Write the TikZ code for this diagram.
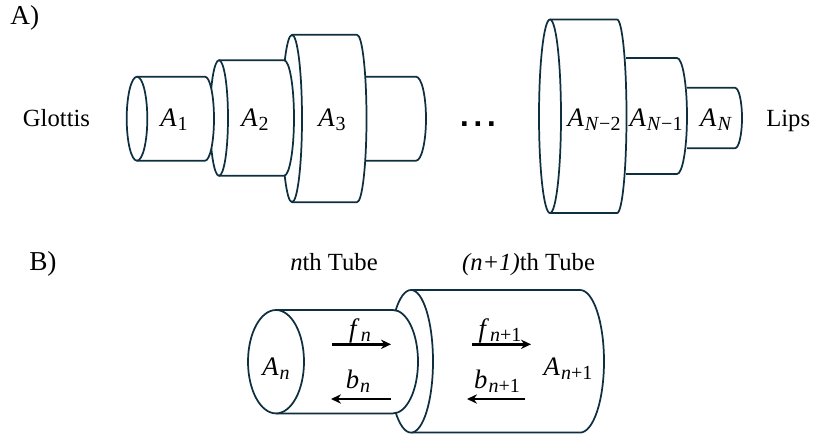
\documentclass[tikz,border=0pt]{standalone}
\usepackage{fontspec}
\setmainfont{Liberation Serif}
\newfontfamily\dotfont{DejaVu Sans}
\usetikzlibrary{arrows.meta}
\definecolor{tube}{HTML}{0E2F40}
\tikzset{
  x=0.75pt,y=-0.75pt,
  tubeline/.style={draw=tube,line width=1.3pt,fill=white,line join=round},
  lab/.style={inner sep=0pt,anchor=base,font=\fontsize{18.5pt}{20pt}\selectfont},
  big/.style={inner sep=0pt,anchor=base,font=\fontsize{20.5pt}{22pt}\selectfont},
  mlab/.style={inner sep=0pt,anchor=base,font=\fontsize{20pt}{22pt}\selectfont},
  flow/.style={draw=black,line width=1.8pt,-{Stealth[length=7.5pt,width=7pt]}},
}
% letter with a subscript
\newcommand{\symsub}[2]{\textit{#1}\kern0.8pt\raisebox{-3.6pt}{\fontsize{15pt}{16pt}\selectfont #2}}
\newcommand{\itn}[1]{\textit{#1}}
% #1 left x, #2 centre y, #3 half height, #4 x where the straight part ends, #5 x radius of the end
\newcommand{\tubebody}[5]{%
  \path[tubeline] (#1,#2-#3) -- (#4,#2-#3) arc[start angle=90,end angle=-90,x radius=#5*0.75pt,y radius=#3*0.75pt] -- (#1,#2+#3);
}
% #1 centre x, #2 centre y, #3 half height, #4 x radius
\newcommand{\tubecap}[4]{%
  \path[tubeline] (#1,#2) ellipse[x radius=#4*0.75pt,y radius=#3*0.75pt];
}
\begin{document}
\begin{tikzpicture}
\useasboundingbox (0,0) rectangle (814,436);
% Part A, left group
\tubebody{366}{118.7}{42}{416}{10}
\tubebody{292}{118.5}{83.7}{357}{9.5}
\tubecap{292}{118.5}{83.7}{10}
\tubebody{219}{118}{57.8}{284}{10}
\tubecap{219}{118}{57.8}{9}
\tubebody{137}{118.7}{42}{205}{9}
\tubecap{137}{118.7}{42}{10.3}
% Part A, right group
\tubebody{687}{118}{30.2}{735}{7}
\tubebody{626}{116}{58}{677}{10}
\tubebody{550}{116.3}{96.8}{617}{9.5}
\tubecap{550}{116.3}{96.8}{11}
% Part B
\tubebody{411}{361.3}{71.3}{580}{24}
\tubecap{411}{361.3}{71.3}{22}
\tubebody{276}{361.7}{51.7}{393}{25}
\tubecap{276}{361.7}{51.7}{28}
% Arrows
\coordinate (fa) at (332,344.3); \coordinate (fb) at (391,344.3);
\coordinate (ba) at (391,399); \coordinate (bb) at (331,399);
\coordinate (ga) at (472,344.3); \coordinate (gb) at (531,344.3);
\coordinate (ca) at (525,399); \coordinate (cb) at (467,399);
\draw[flow] (fa) -- (fb);
\draw[flow] (ba) -- (bb);
\draw[flow] (ga) -- (gb);
\draw[flow] (ca) -- (cb);
% Labels
\node[big,anchor=base west] (tA) at (10,24) {A)};
\node[big,anchor=base west] (tB) at (29,270) {B)};
\node[lab] (glottis) at (56.5,126) {Glottis};
\node[lab,anchor=base west] (lips) at (766,126) {Lips};
\node[inner sep=0pt,anchor=base,font=\fontsize{19pt}{21pt}\dotfont\bfseries] (dots) at (478,126.5) {.\kern2.9pt.\kern2.9pt.};
\node[mlab] (a1) at (174,126) {\symsub{A}{1}};
\node[mlab] (a2) at (255,126) {\symsub{A}{2}};
\node[mlab] (a3) at (332,126) {\symsub{A}{3}};
\node[mlab] (an2) at (594,126) {\symsub{A}{\itn{N}−2}};
\node[mlab] (an1) at (656,126) {\symsub{A}{\itn{N}−1}};
\node[mlab] (an) at (716,126) {\symsub{A}{\itn{N}}};
\node[lab] (tn) at (334,270) {\textit{n}th Tube};
\node[lab] (tn1) at (528.5,270) {\textit{(n+1)}th Tube};
\node[mlab] (bn0) at (276,375) {\symsub{A}{\itn{n}}};
\node[mlab] (bn1) at (568,375) {\symsub{A}{\itn{n}+1}};
\node[mlab] (lf) at (360,337) {\symsub{f}{\itn{n}}};
\node[mlab] (lb) at (358,388) {\symsub{b}{\itn{n}}};
\node[mlab] (lf1) at (500,337) {\symsub{f}{\itn{n}+1}};
\node[mlab] (lb1) at (497,388) {\symsub{b}{\itn{n}+1}};
\end{tikzpicture}
\end{document}
